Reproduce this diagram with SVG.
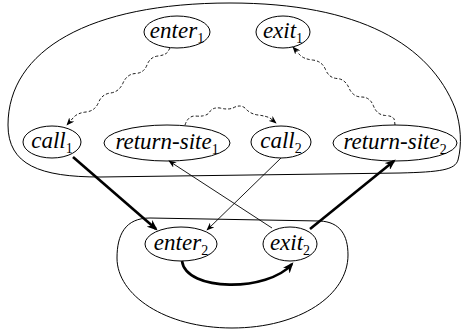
<svg xmlns="http://www.w3.org/2000/svg" width="461" height="332" viewBox="0 0 461 332">
<style>
.n{fill:none;stroke:#000;stroke-width:1}
.c{fill:none;stroke:#000;stroke-width:1}
text{font-family:'Liberation Serif','DejaVu Serif',serif;font-style:italic;font-size:23px;fill:#000;text-anchor:middle}
.s{font-style:normal;font-size:14px}
.thick{fill:none;stroke:#000;stroke-width:2.6;marker-end:url(#ab)}
.thin{fill:none;stroke:#000;stroke-width:0.9;marker-end:url(#a)}
.wave{fill:none;stroke:#000;stroke-width:0.9;stroke-dasharray:3 2;marker-end:url(#a)}
</style>
<defs>
<marker id="a" viewBox="0 0 10 8" refX="9" refY="4" markerWidth="8" markerHeight="6.4" markerUnits="userSpaceOnUse" orient="auto">
<path d="M0,0 L10,4 L0,8 L3,4 Z" fill="#000"/>
</marker>
<marker id="ab" viewBox="0 0 10 8" refX="8" refY="4" markerWidth="11" markerHeight="8.8" markerUnits="userSpaceOnUse" orient="auto">
<path d="M0,0 L10,4 L0,8 L3,4 Z" fill="#000"/>
</marker>
</defs>
<g id="containers">
<path class="c" d="M100,177 L400,173 C440,172 455,170 458,160 C462,145 461,125 455,108 C430,45 360,3 230,3 C90,3 8,50 8,125 C8,165 40,177 100,177 Z"/>
<path class="c" d="M150,218 L320,221 C340,222 348,235 348,255 C348,295 300,328 232,328 C165,328 117,295 117,258 C117,235 125,218 150,218 Z"/>
</g>
<g id="enter1"><ellipse class="n" cx="177" cy="32" rx="33" ry="16"/><text x="177" y="38">enter<tspan class="s" dy="5">1</tspan></text></g>
<g id="exit1"><ellipse class="n" cx="283" cy="32" rx="27" ry="16"/><text x="283" y="38">exit<tspan class="s" dy="5">1</tspan></text></g>
<g id="call1"><ellipse class="n" cx="52" cy="142" rx="29" ry="16"/><text x="52" y="148">call<tspan class="s" dy="5">1</tspan></text></g>
<g id="return-site1"><ellipse class="n" cx="167" cy="143" rx="63" ry="18"/><text x="167" y="149">return-site<tspan class="s" dy="5">1</tspan></text></g>
<g id="call2"><ellipse class="n" cx="281" cy="142" rx="30" ry="16"/><text x="281" y="148">call<tspan class="s" dy="5">2</tspan></text></g>
<g id="return-site2"><ellipse class="n" cx="395" cy="143" rx="62" ry="18"/><text x="395" y="149">return-site<tspan class="s" dy="5">2</tspan></text></g>
<g id="enter2"><ellipse class="n" cx="181" cy="244" rx="36" ry="17"/><text x="181" y="250">enter<tspan class="s" dy="5">2</tspan></text></g>
<g id="exit2"><ellipse class="n" cx="290" cy="244" rx="27" ry="17"/><text x="290" y="250">exit<tspan class="s" dy="5">2</tspan></text></g>
<g id="connectors">
<path class="thick" d="M73,157 L156,229"/>
<path class="thick" d="M310,229 L394,161"/>
<path class="thick" d="M182,261 C186,292 268,292 292,264"/>
<path class="thin" d="M281,158 L207,230"/>
<path class="thin" d="M272,228 L169,161"/>
<path class="wave" d="M170,48 L168,51.5 Q166,55 158,56 Q150,57 147,65 Q144,73 135.5,73.5 Q127,74 123,83 Q119,92 110.5,93 Q102,94 98.5,102.5 Q95,111 86,112 Q77,113 73,118 L67,125"/>
<path class="wave" d="M395,125 L394.5,120.5 Q394,116 385.5,115.5 Q377,115 373.5,106 Q370,97 361.5,97 Q353,97 349,88 Q345,79 337,78.5 Q329,78 325.5,69.5 Q322,61 312.5,60 Q303,59 299,54 L293,47"/>
<path class="wave" d="M185,125 Q188,116 195,116 Q205,117 209,113 Q212,107 220,108 Q228,110 233,108 Q240,104 245,108 Q250,114 258,115 Q266,116 270,118 L276,123"/>
</g>
</svg>
